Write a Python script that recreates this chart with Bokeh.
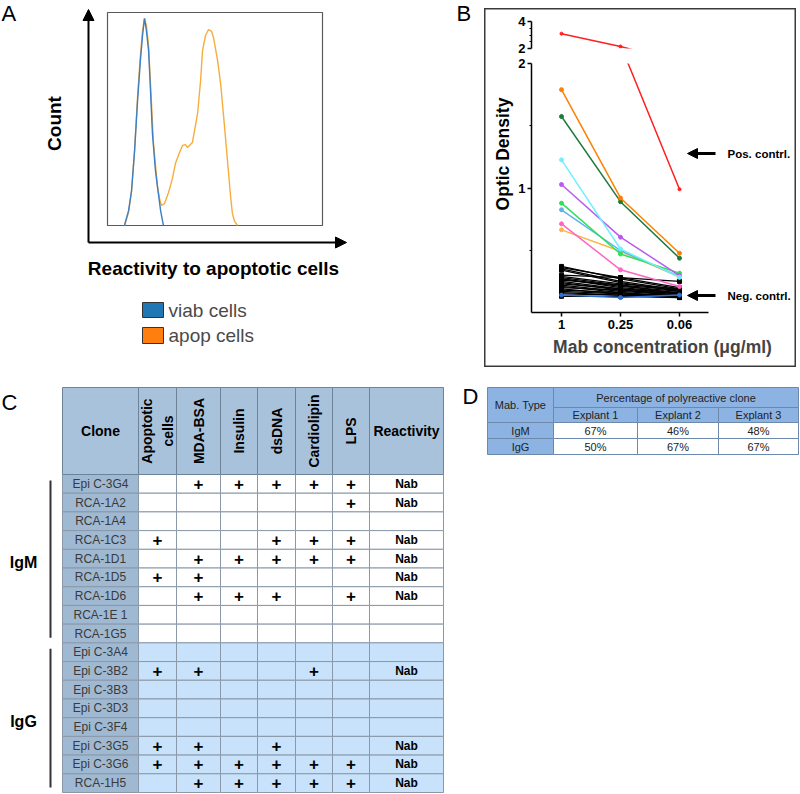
from math import pi
from bokeh.plotting import figure
from bokeh.layouts import row, column
from bokeh.models import Range1d, Arrow, NormalHead, FixedTicker, Spacer
from bokeh.core.properties import value
from bokeh.embed import file_html
from bokeh.resources import INLINE

FONT = "Liberation Sans"
PAGE_H = 794

# ---------------- Panel A data: histogram (channel, % of max count) ----------------
viab_channel = [7.9, 9.8, 11.2, 12.6, 14.0, 15.3, 16.3, 17.2, 18.1, 19.1, 20.0, 20.9, 22.3, 23.3, 24.7, 26.0]
viab_count = [0, 7.0, 16.4, 35.2, 58.7, 77.5, 89.2, 97.2, 91.5, 82.2, 63.4, 43.2, 25.8, 17.8, 7.0, 0]
apop_channel = [7.9, 9.8, 11.2, 12.6, 14.0, 15.3, 16.3, 17.2, 18.1, 19.1,
                20.0, 21.4, 23.3, 24.2, 25.1, 26.5, 28.4, 30.2, 31.6, 33.5,
                34.9, 36.3, 37.2, 39.5, 40.9, 41.9, 43.3, 44.2, 45.6, 47.0,
                48.4, 49.3, 51.2, 52.6, 54.4, 55.8, 57.2, 58.1, 59.1, 60.5]
apop_count = [0, 6.1, 16.4, 35.2, 61.0, 79.8, 91.5, 97.2, 93.9, 84.5,
              66.7, 38.5, 17.8, 12.7, 9.4, 10.3, 15.5, 22.1, 29.1, 34.3,
              37.6, 38.0, 36.6, 39.0, 46.9, 52.6, 68.1, 82.2, 89.2, 92.0,
              91.1, 88.3, 77.5, 66.7, 46.9, 30.5, 14.1, 5.6, 1.9, 0]
legend_labels = ["viab cells", "apop cells"]

# ---------------- Panel B data: optic density vs Mab concentration ----------------
conc_labels = ["1", "0.25", "0.06"]
od_pos_ctrl = [3.1, 2.15, 0.99]
od_orange = [1.79, 0.92, 0.476]
od_darkgreen = [1.574, 0.89, 0.436]
od_cyan = [1.226, 0.51, 0.284]
od_violet = [1.028, 0.605, 0.297]
od_green = [0.878, 0.47, 0.316]
od_lightblue = [0.825, 0.498, 0.289]
od_pink = [0.712, 0.343, 0.209]
od_yellow = [0.664, 0.492, 0.284]
od_blue = [0.14, 0.12, 0.14]
black_at_1 = [0.37, 0.36, 0.35, 0.34, 0.30, 0.29, 0.28, 0.27, 0.27, 0.26, 0.25,
              0.24, 0.23, 0.22, 0.21, 0.20, 0.19, 0.18, 0.17, 0.16, 0.15, 0.13]
black_at_025 = [0.27, 0.28, 0.25, 0.24, 0.28, 0.23, 0.22, 0.21, 0.20, 0.22, 0.19,
                0.18, 0.19, 0.17, 0.16, 0.18, 0.15, 0.16, 0.15, 0.14, 0.14, 0.13]
black_at_006 = [0.19, 0.20, 0.18, 0.17, 0.25, 0.19, 0.18, 0.17, 0.16, 0.15, 0.16,
                0.14, 0.15, 0.14, 0.13, 0.15, 0.13, 0.12, 0.14, 0.12, 0.13, 0.12]

# ---------------- Panel C data: reactivity table ----------------
clones = ["Epi C-3G4", "RCA-1A2", "RCA-1A4", "RCA-1C3", "RCA-1D1", "RCA-1D5", "RCA-1D6",
          "RCA-1E 1", "RCA-1G5", "Epi C-3A4", "Epi C-3B2", "Epi C-3B3", "Epi C-3D3",
          "Epi C-3F4", "Epi C-3G5", "Epi C-3G6", "RCA-1H5"]
isotype = ["IgM"] * 9 + ["IgG"] * 8
antigens = ["Apoptotic\ncells", "MDA-BSA", "Insulin", "dsDNA", "Cardiolipin", "LPS"]
apoptotic = ["", "", "", "+", "", "+", "", "", "", "", "+", "", "", "", "+", "+", ""]
mda_bsa = ["+", "", "", "", "+", "+", "+", "", "", "", "+", "", "", "", "+", "+", "+"]
insulin = ["+", "", "", "", "+", "", "+", "", "", "", "", "", "", "", "", "+", "+"]
dsdna = ["+", "", "", "+", "+", "", "+", "", "", "", "", "", "", "", "+", "+", "+"]
cardiolipin = ["+", "", "", "+", "+", "", "", "", "", "", "+", "", "", "", "", "+", "+"]
lps = ["+", "+", "", "+", "+", "", "+", "", "", "", "", "", "", "", "", "+", "+"]
reactivity = ["Nab", "Nab", "", "Nab", "Nab", "Nab", "Nab", "", "", "", "Nab", "", "", "",
              "Nab", "Nab", "Nab"]

# ---------------- Panel D data ----------------
mab_types = ["IgM", "IgG"]
explants = ["Explant 1", "Explant 2", "Explant 3"]
pct_explant1 = ["67%", "50%"]
pct_explant2 = ["46%", "67%"]
pct_explant3 = ["48%", "67%"]


def fy(py):
    return PAGE_H - py


def base_fig(w, h, xr, yr):
    p = figure(width=w, height=h, x_range=xr, y_range=yr, output_backend="svg",
               toolbar_location=None, x_axis_location=None, y_axis_location=None,
               min_border=0)
    p.outline_line_color = None
    p.grid.visible = False
    return p


def txt(p, xs, ys, texts, size, bold=False, color="black", align="center",
        baseline="middle", angle=0.0, line_height=1.2):
    p.text(x=xs, y=ys, text=texts, text_font=value(FONT), text_font_size=size,
           text_font_style="bold" if bold else "normal", text_color=color,
           text_align=align, text_baseline=baseline, angle=angle,
           text_line_height=line_height)


# =============== Panel A ===============
A_L, A_R, A_T, A_B = 107, 322, 12, 225
sxA = (A_R - A_L) / 100.0
syA = (A_B - A_T) / 100.0


def ax(px):
    return (px - A_L) / sxA


def ay(py):
    return (A_B - py) / syA


pA = base_fig(484, 367, Range1d(ax(0), ax(484)), Range1d(ay(367), ay(0)))
pA.quad(left=[0], right=[100], bottom=[0], top=[100], fill_color=None,
        line_color="#5a5a5a", line_width=1.2)
pA.line(apop_channel, apop_count, line_color="#f7ad3c", line_width=1.4)
pA.line(viab_channel, viab_count, line_color="#3b7fc6", line_width=1.4)
pA.add_layout(Arrow(x_start=ax(88), y_start=ay(242), x_end=ax(88), y_end=ay(9),
                    line_width=2, line_color="black",
                    end=NormalHead(size=11, fill_color="black", line_color="black")))
pA.add_layout(Arrow(x_start=ax(88), y_start=ay(242), x_end=ax(346), y_end=ay(242),
                    line_width=2, line_color="black",
                    end=NormalHead(size=11, fill_color="black", line_color="black")))
txt(pA, [ax(54)], [ay(123)], ["Count"], "19px", bold=True, angle=pi / 2)
txt(pA, [ax(213)], [ay(268)], ["Reactivity to apoptotic cells"], "19px", bold=True)
pA.quad(left=[ax(142)] * 2, right=[ax(163)] * 2, top=[ay(302), ay(327)],
        bottom=[ay(317), ay(343)], fill_color=["#1f77b4", "#ff7f0e"],
        line_color="#333333", line_width=1)
txt(pA, [ax(168)] * 2, [ay(310), ay(335)], legend_labels, "19px", color="#4a4a4a",
    align="left")
txt(pA, [ax(1), ax(456)], [ay(13), ay(13)], ["A", "B"], "22px", align="left")

# =============== Panel B ===============
B_X0, B_DX = 561, 59.0
B_Y0, B_DY = 312, 124.5
xrB = Range1d((531 - B_X0) / B_DX, (793 - B_X0) / B_DX)
xs = list(range(len(conc_labels)))


def style_axis(axis):
    axis.axis_line_width = 1.5
    axis.axis_line_color = "black"
    axis.major_tick_line_width = 1.5
    axis.minor_tick_line_width = 1.2
    axis.major_tick_out = 4
    axis.major_tick_in = 0
    axis.minor_tick_out = 2
    axis.minor_tick_in = 0
    axis.major_label_text_font = FONT
    axis.major_label_text_font_style = "bold"
    axis.major_label_text_font_size = "13px"
    axis.major_label_text_color = "black"
    axis.major_label_standoff = 2


pBu = figure(width=282, height=47, x_range=xrB, y_range=Range1d(2, 4),
             output_backend="svg", toolbar_location=None, x_axis_location=None,
             min_border_left=17, min_border_right=3, min_border_top=13,
             min_border_bottom=7)
pBl = figure(width=282, height=312, x_range=xrB, y_range=Range1d(0, 2),
             output_backend="svg", toolbar_location=None,
             min_border_left=17, min_border_right=3, min_border_top=8,
             min_border_bottom=55)
for p in (pBu, pBl):
    p.outline_line_color = None
    p.grid.visible = False
    p.border_fill_color = None
    p.background_fill_color = None
    style_axis(p.yaxis[0])

pBu.yaxis.ticker = FixedTicker(ticks=[2, 4], minor_ticks=[2.5, 3, 3.5])
pBu.yaxis.bounds = (2, 4)
pBl.yaxis.ticker = FixedTicker(ticks=[1, 2], minor_ticks=[0.5, 1.5])
pBl.yaxis.bounds = (0, 2)
style_axis(pBl.xaxis[0])
pBl.xaxis.ticker = FixedTicker(ticks=xs, minor_ticks=[])
pBl.xaxis.major_label_overrides = {i: lab for i, lab in enumerate(conc_labels)}
pBl.xaxis.bounds = ((530 - B_X0) / B_DX, (708 - B_X0) / B_DX)
pBl.xaxis.major_label_standoff = 3
pBl.xaxis.axis_label = "Mab concentration (\u03bcg/ml)"
pBl.xaxis.axis_label_text_font = FONT
pBl.xaxis.axis_label_text_font_style = "bold"
pBl.xaxis.axis_label_text_font_size = "17.5px"
pBl.xaxis.axis_label_standoff = 5

for a, b, c in zip(black_at_1, black_at_025, black_at_006):
    pBl.line(xs, [a, b, c], line_color="black", line_width=1.2)
    pBl.scatter(xs, [a, b, c], marker="square", size=4, color="black")

colored = [(od_blue, "#2f6fd6"), (od_yellow, "#ffb545"), (od_pink, "#ff66c4"),
           (od_lightblue, "#5fb0ec"), (od_green, "#2fe05a"), (od_violet, "#b85cf0"),
           (od_cyan, "#6ff0ff"), (od_darkgreen, "#1d7a3c"), (od_orange, "#ff8000")]
for vals, col in colored:
    pBl.line(xs, vals, line_color=col, line_width=1.5)
    pBl.scatter(xs, vals, marker="circle", size=4, color=col)
for p in (pBu, pBl):
    p.line(xs, od_pos_ctrl, line_color="#ff2020", line_width=1.5)
    p.scatter(xs, od_pos_ctrl, marker="circle", size=3, color="#ff2020")

arrow_x0, arrow_x1, text_x = (715 - B_X0) / B_DX, (687 - B_X0) / B_DX, (727 - B_X0) / B_DX
pos_y, neg_y = (B_Y0 - 153) / B_DY, (B_Y0 - 295) / B_DY
for yy in (pos_y, neg_y):
    pBl.add_layout(Arrow(x_start=arrow_x0, y_start=yy, x_end=arrow_x1, y_end=yy,
                         line_width=3, line_color="black",
                         end=NormalHead(size=10, fill_color="black", line_color="black")))
txt(pBl, [text_x, text_x], [pos_y, neg_y], ["Pos. contrl.", "Neg. contrl."], "11.5px",
    bold=True, align="left")

# y-axis title of panel B in its own narrow strip inside the panel box
pBt = base_fig(30, 359, Range1d(484, 514), Range1d(fy(367), fy(8)))
pBt.border_fill_color = None
pBt.background_fill_color = None
txt(pBt, [502], [fy(153.5)], ["Optic Density"], "17.5px", bold=True, angle=pi / 2)

boxB = row(pBt, column(pBu, pBl), styles={"box-shadow": "inset 0 0 0 1.5px #3a3a3a",
                                          "background-color": "white"})
colB = column(Spacer(width=312, height=8), boxB)

# =============== Panel C ===============
pC = base_fig(454, 426, Range1d(0, 454), Range1d(fy(793), fy(367)))
col_edges = [62, 138, 176, 220, 257, 295, 332, 369, 443]
hdr_top, hdr_bot, tbl_bot = 387, 474, 792
n = len(clones)
row_h = (tbl_bot - hdr_bot) / n
marks = [apoptotic, mda_bsa, insulin, dsdna, cardiolipin, lps]

L, R, T, B, F = [], [], [], [], []
for r in range(n):
    top = hdr_bot + r * row_h
    for c in range(len(col_edges) - 1):
        L.append(col_edges[c]); R.append(col_edges[c + 1])
        T.append(fy(top)); B.append(fy(top + row_h))
        if c == 0:
            F.append("#a0b9d3")
        elif isotype[r] == "IgM":
            F.append("#ffffff")
        else:
            F.append("#c7e2fa")
pC.quad(left=L, right=R, top=T, bottom=B, fill_color=F, line_color="#8a98a8", line_width=1)
pC.quad(left=col_edges[:-1], right=col_edges[1:], top=[fy(hdr_top)] * (len(col_edges) - 1),
        bottom=[fy(hdr_bot)] * (len(col_edges) - 1), fill_color="#a9c2dc",
        line_color="#6f8398", line_width=1)

ccx = [(col_edges[i] + col_edges[i + 1]) / 2 for i in range(len(col_edges) - 1)]
hy = fy((hdr_top + hdr_bot) / 2)
txt(pC, [ccx[0], ccx[-1]], [hy, hy], ["Clone", "Reactivity"], "14px", bold=True)
txt(pC, ccx[1:7], [hy] * 6, antigens, "14px", bold=True, angle=pi / 2, line_height=1.3)

rc = [fy(hdr_bot + (r + 0.5) * row_h) for r in range(n)]
txt(pC, [ccx[0]] * n, rc, clones, "12px", color="#3a3a3a")
for k, colmarks in enumerate(marks):
    idx = [r for r in range(n) if colmarks[r]]
    txt(pC, [ccx[k + 1]] * len(idx), [rc[r] for r in idx], [colmarks[r] for r in idx],
        "17px", bold=True)
idx = [r for r in range(n) if reactivity[r]]
txt(pC, [ccx[-1]] * len(idx), [rc[r] for r in idx], [reactivity[r] for r in idx], "12px",
    bold=True)

for iso in ("IgM", "IgG"):
    rows_i = [r for r in range(n) if isotype[r] == iso]
    y_top = hdr_bot + rows_i[0] * row_h + 6
    y_bot = hdr_bot + (rows_i[-1] + 1) * row_h - 5
    pC.line([50, 50], [fy(y_top), fy(y_bot)], line_color="#333333", line_width=2)
    txt(pC, [23], [fy((y_top + y_bot) / 2 + 3)], [iso], "16px", bold=True)
txt(pC, [1], [fy(402)], ["C"], "22px", align="left")

# =============== Panel D ===============
pD = base_fig(345, 426, Range1d(454, 799), Range1d(fy(793), fy(367)))
dc = [487, 553, 637, 718, 798]
dr = [387, 407, 422, 438, 454]
HB = "#8db3e2"
LN = "#6c88aa"
pD.quad(left=[dc[0], dc[1]], right=[dc[1], dc[4]], top=[fy(dr[0]), fy(dr[0])],
        bottom=[fy(dr[2]), fy(dr[1])], fill_color=HB, line_color=LN)
pD.quad(left=dc[1:4], right=dc[2:5], top=[fy(dr[1])] * 3, bottom=[fy(dr[2])] * 3,
        fill_color=HB, line_color=LN)
for r in range(len(mab_types)):
    pD.quad(left=dc[:4], right=dc[1:], top=[fy(dr[2 + r])] * 4, bottom=[fy(dr[3 + r])] * 4,
            fill_color=[HB, "white", "white", "white"], line_color=LN)
dcx = [(dc[i] + dc[i + 1]) / 2 for i in range(4)]
txt(pD, [dcx[0]], [fy((dr[0] + dr[2]) / 2)], ["Mab. Type"], "11px", color="#222222")
txt(pD, [(dc[1] + dc[4]) / 2], [fy((dr[0] + dr[1]) / 2)],
    ["Percentage of polyreactive clone"], "11px", color="#222222")
txt(pD, dcx[1:], [fy((dr[1] + dr[2]) / 2)] * 3, explants, "11px", color="#222222")
for r in range(len(mab_types)):
    yy = fy((dr[2 + r] + dr[3 + r]) / 2)
    txt(pD, dcx, [yy] * 4, [mab_types[r], pct_explant1[r], pct_explant2[r], pct_explant3[r]],
        "11px", color="#222222")
txt(pD, [462], [fy(396)], ["D"], "22px", align="left")

layout = column(row(pA, colB), row(pC, pD))
open("out.html", "w").write(file_html(layout, INLINE))
